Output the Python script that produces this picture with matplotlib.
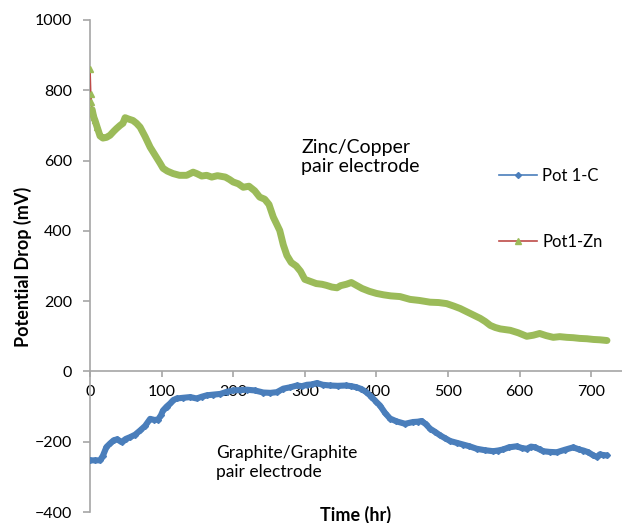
import matplotlib
matplotlib.use("Agg")
import matplotlib.pyplot as plt

# Pot1-Zn (Zinc/Copper pair electrode)
zn_t = [0, 1, 2, 3, 4, 5, 7, 10, 14, 18, 23, 28, 33, 37, 42, 46, 49, 54, 60, 65, 70, 77, 84, 91, 98, 102, 108,
        116, 125, 135, 144, 149, 156, 163, 170, 178, 189, 195, 200, 207, 214, 222, 230, 237, 244, 250, 256, 261,
        265, 270, 275, 281, 288, 294, 300, 308, 316, 324, 330, 338, 345, 350, 358, 365, 372, 380, 390, 400, 410,
        420, 433, 447, 460, 475, 487, 498, 508, 517, 524, 531, 538, 545, 552, 559, 566, 573, 587, 598, 610, 619,
        628, 637, 647, 656, 666, 675, 684, 694, 703, 712, 722]
zn_v = [860, 790, 766, 745, 735, 725, 714, 695, 670, 664, 666, 672, 683, 691, 700, 706, 722, 718, 714, 706, 695, 668,
        638, 615, 592, 578, 570, 563, 558, 558, 567, 563, 556, 558, 553, 557, 553, 546, 539, 534, 524, 527, 514, 496,
        490, 475, 439, 418, 401, 360, 330, 310, 300, 285, 262, 256, 250, 248, 245, 240, 238, 244, 248, 253, 245, 236,
        228, 222, 218, 215, 213, 205, 202, 197, 196, 193, 186, 179, 172, 165, 158, 151, 142, 131, 125, 121, 117, 110,
        100, 103, 108, 102, 97, 99, 97, 96, 94, 93, 91, 90, 88]

# Pot 1-C (Graphite/Graphite pair electrode)
c_t = [0, 7, 14, 18, 23, 28, 33, 38, 44, 50, 56, 63, 70, 77, 84, 90, 95, 99, 102, 107, 112, 116, 121, 130, 140, 149,
       156, 163, 172, 182, 191, 200, 210, 219, 230, 242, 252, 261, 270, 280, 289, 296, 303, 310, 317, 325, 335, 346,
       358, 365, 372, 379, 386, 393, 400, 405, 412, 419, 428, 440, 451, 458, 463, 469, 475, 482, 489, 496, 503, 512,
       521, 530, 540, 551, 563, 570, 577, 585, 596, 603, 610, 616, 622, 628, 633, 642, 652, 663, 675, 683, 689, 696,
       703, 708, 712, 717, 722]
c_v = [-253, -253, -253, -240, -215, -205, -196, -193, -201, -192, -187, -180, -168, -155, -135, -138, -137, -125, -111,
       -100, -91, -82, -77, -75, -73, -77, -72, -68, -66, -64, -58, -54, -53, -52, -54, -60, -61, -59, -49, -45, -40,
       -42, -38, -37, -33, -38, -40, -41, -40, -42, -45, -50, -59, -72, -87, -97, -118, -134, -142, -149, -144, -143,
       -141, -150, -163, -172, -182, -190, -198, -203, -208, -213, -220, -224, -227, -225, -222, -216, -213, -218, -220,
       -214, -216, -222, -227, -229, -230, -223, -216, -222, -225, -230, -239, -243, -236, -238, -239]

x_ticks = [0, 100, 200, 300, 400, 500, 600, 700]
y_ticks = [-400, -200, 0, 200, 400, 600, 800, 1000]

FONT = "Lato"
plt.rcParams['font.family'] = [FONT, 'DejaVu Sans']

BLUE = "#4A7EBB"
RED = "#BE4B48"
GREEN = "#9BBB59"
GREY = "#A6A6A6"

fig = plt.figure(figsize=(6.22, 5.23), dpi=100)
ax = fig.add_axes([0.1447, 0.021, 0.8553, 0.9408])

# Graphite series: thick band of overlapping markers
ax.plot(c_t, c_v, color=BLUE, lw=4.4, solid_capstyle='round', solid_joinstyle='round', zorder=3,
        label='_nolegend_')
ax.plot(c_t, c_v, color=BLUE, lw=1.2, marker='D', ms=3, zorder=4, label='Pot 1-C')

# Zinc series: red line under a band of green triangles
ax.plot(zn_t, zn_v, color=RED, lw=1.2, zorder=5, label='_nolegend_')
ax.plot(zn_t[3:], zn_v[3:], color=GREEN, lw=5.0, solid_capstyle='round', solid_joinstyle='round', zorder=6,
        label='_nolegend_')
ax.plot(zn_t[:8], zn_v[:8], linestyle='none', marker='^', ms=4, color=GREEN, zorder=7, label='_nolegend_')
ax.plot([], [], color=RED, lw=1.2, marker='^', ms=4, mfc=GREEN, mec=GREEN, label='Pot1-Zn')

ax.set_xlim(0, 743)
ax.set_ylim(-400, 1000)
ax.set_xticks(x_ticks)
ax.set_yticks(y_ticks)

for s in ['top', 'right']:
    ax.spines[s].set_visible(False)
ax.spines['bottom'].set_position(('data', 0))
for s in ['left', 'bottom']:
    ax.spines[s].set_color(GREY)
    ax.spines[s].set_linewidth(1.2)
ax.tick_params(axis='both', colors=GREY, labelcolor='black', labelsize=11.5, width=1.2)
ax.tick_params(axis='x', direction='out', length=4, pad=6)
ax.tick_params(axis='y', direction='out', length=5, pad=8)

ax.text(295, 610, "Zinc/Copper\npair electrode", fontsize=14, ha='left', va='center', linespacing=1.2)
ax.text(176, -259, "Graphite/Graphite\npair electrode", fontsize=12.5, ha='left', va='center', linespacing=1.25)

fig.text(0.037, 0.49, "Potential Drop (mV)", rotation=90, fontsize=13, fontweight='bold', ha='center', va='center')
fig.text(0.572, 0.015, "Time (hr)", fontsize=13, fontweight='bold', ha='center', va='center')

leg = ax.legend(loc='upper left', bbox_to_anchor=(0.74, 0.73), frameon=False, fontsize=12,
                labelspacing=3.0, handlelength=2.3, handletextpad=0.3)

fig.savefig("out.png", dpi=100)
